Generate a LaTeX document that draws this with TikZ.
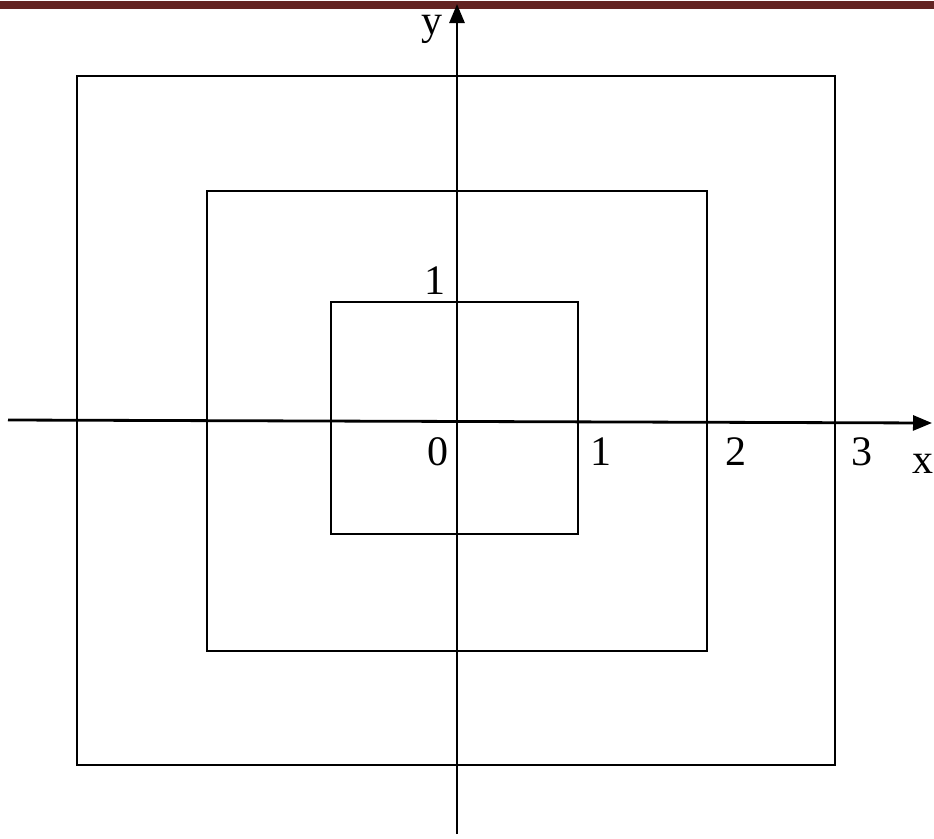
\documentclass[tikz,border=0pt]{standalone}
\usepackage{fontspec}
\setmainfont{Liberation Serif}
\usetikzlibrary{arrows.meta}
\definecolor{headred}{HTML}{632423}
\begin{document}
\begin{tikzpicture}[x=1pt,y=-1pt,
    axis/.style={line width=2.8pt,-{Triangle[length=19pt,width=15pt]}},
    box/.style={line width=2.2pt},
    lab/.style={font=\fontsize{42}{42}\selectfont,inner sep=0pt,anchor=base}]
  \useasboundingbox (0,0) rectangle (934,838);
  % header rule
  \fill[headred] (0,1) rectangle (934,9);
  % squares
  \draw[box] (77,76) rectangle (835,765);
  \draw[box] (207,191) rectangle (707,651);
  \draw[box] (331,302) rectangle (578,534);
  % axes
  \coordinate (xl) at (8,420);
  \coordinate (xr) at (932,423);
  \coordinate (yb) at (457,834);
  \coordinate (yt) at (457,4);
  \draw[axis] (xl) -- (xr);
  \draw[axis] (yb) -- (yt);
  % labels
  \node[lab] (o) at (438,465) {0};
  \node[lab] (x1) at (601,465) {1};
  \node[lab] (x2) at (736,465) {2};
  \node[lab] (x3) at (862,465) {3};
  \node[lab] (xn) at (923,473) {x};
  \node[lab] (y1) at (435,294) {1};
  \node[lab] (yn) at (432,34) {y};
\end{tikzpicture}
\end{document}
